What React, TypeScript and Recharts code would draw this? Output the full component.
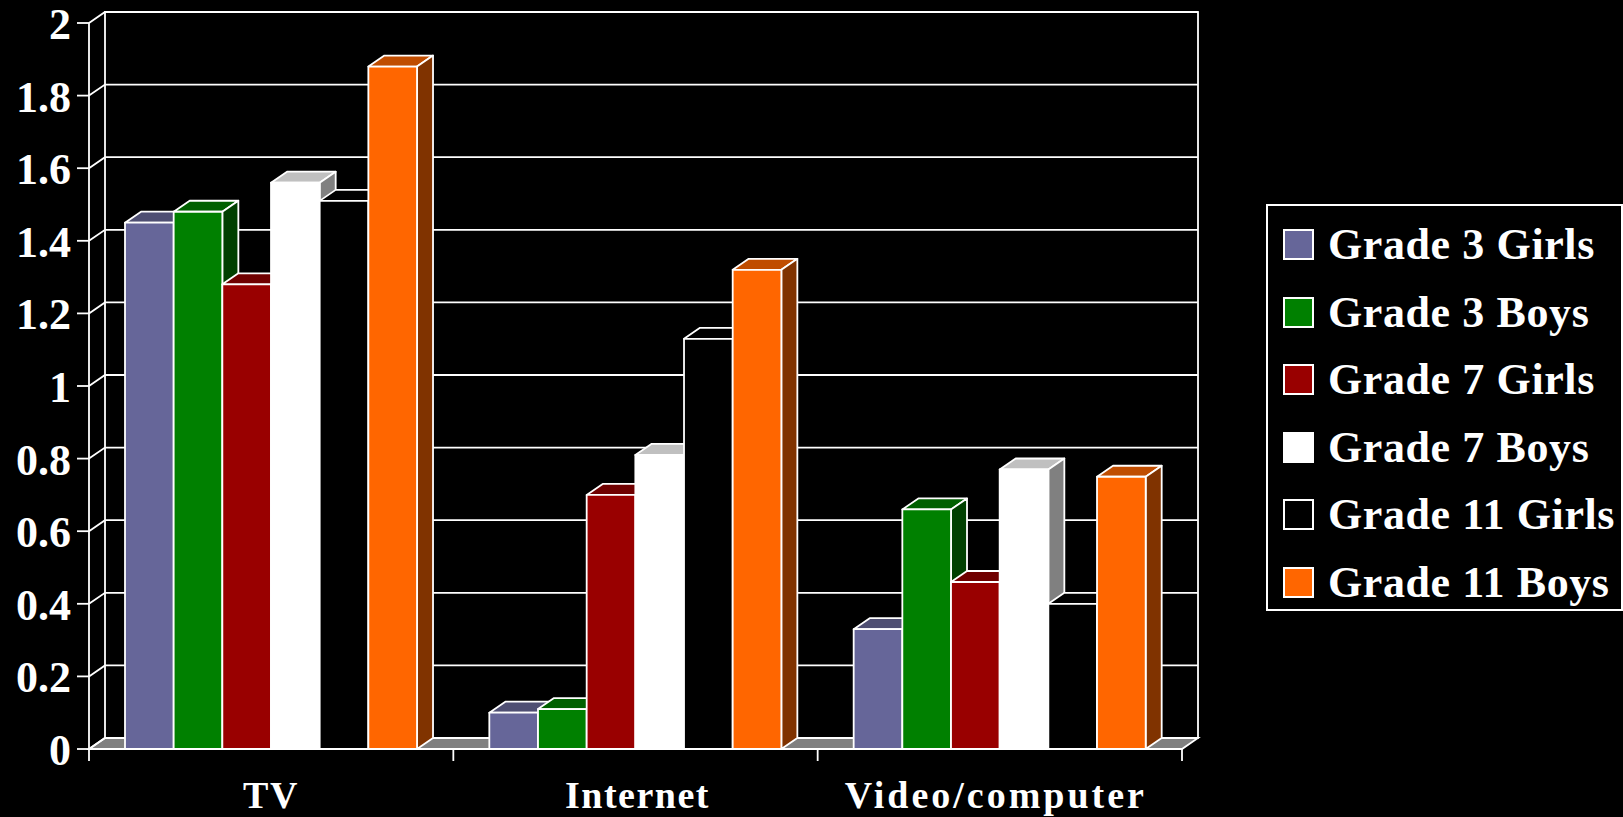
import { BarChart, Bar, XAxis, YAxis, CartesianGrid, Legend } from "recharts";

const categories = ["TV", "Internet", "Video/computer"];
const grade3Girls = [1.45, 0.1, 0.33];
const grade3Boys = [1.48, 0.11, 0.66];
const grade7Girls = [1.28, 0.7, 0.46];
const grade7Boys = [1.56, 0.81, 0.77];
const grade11Girls = [1.51, 1.13, 0.4];
const grade11Boys = [1.88, 1.32, 0.75];
const yTicks = [0, 0.2, 0.4, 0.6, 0.8, 1, 1.2, 1.4, 1.6, 1.8, 2];

const series = [
  { key: "Grade 3 Girls", values: grade3Girls, fill: "#666699", top: "#4f4f73", side: "#3d3d5c" },
  { key: "Grade 3 Boys", values: grade3Boys, fill: "#008000", top: "#006000", side: "#004000" },
  { key: "Grade 7 Girls", values: grade7Girls, fill: "#990000", top: "#700000", side: "#4d0000" },
  { key: "Grade 7 Boys", values: grade7Boys, fill: "#ffffff", top: "#c0c0c0", side: "#808080" },
  { key: "Grade 11 Girls", values: grade11Girls, fill: "#000000", top: "#000000", side: "#000000" },
  { key: "Grade 11 Boys", values: grade11Boys, fill: "#ff6600", top: "#c04d00", side: "#803300" },
];

const data = categories.map((name, i) => {
  const row: Record<string, string | number> = { name };
  series.forEach((s) => {
    row[s.key] = s.values[i];
  });
  return row;
});

const WIDTH = 1623;
const HEIGHT = 817;
const DX = 16;
const DY = 11;
const TOP = 23;
const BOTTOM = 749;
const FONT = "'Liberation Serif', serif";
// the original font sets the labels wider than Liberation does
const labelSpacing = [1.8, 1.5, 3];
const labelNudge = [0, 2, -4];

// 3D box: front face plus the top and right faces
const box = (top: string, side: string) => (props: any) => {
  const { x, y, width, height, fill } = props;
  const r = x + width;
  const b = y + height;
  return (
    <g stroke="#fff" strokeWidth={1.8} strokeLinejoin="round">
      <polygon points={`${x},${y} ${x + DX},${y - DY} ${r + DX},${y - DY} ${r},${y}`} fill={top} />
      <polygon points={`${r},${y} ${r + DX},${y - DY} ${r + DX},${b - DY} ${r},${b}`} fill={side} />
      <rect x={x} y={y} width={width} height={height} fill={fill} />
    </g>
  );
};

// grid lines on the back wall, joined to the axis by a diagonal
const wallLine = (props: any) => {
  const { x1, x2, y1 } = props;
  const isTop = Math.abs(y1 - TOP) < 1;
  const isFloor = Math.abs(y1 - BOTTOM) < 1;
  return (
    <g key={`wall-${y1}`} fill="none" stroke="#fff" strokeWidth={1.8}>
      {isFloor && (
        <polygon
          points={`${x1},${y1} ${x1 + DX},${y1 - DY} ${x2 + DX},${y1 - DY} ${x2},${y1}`}
          fill="#808080"
        />
      )}
      {isTop && (
        <rect x={x1 + DX} y={TOP - DY} width={x2 - x1} height={BOTTOM - TOP} />
      )}
      <polyline points={`${x1},${y1} ${x1 + DX},${y1 - DY} ${x2 + DX},${y1 - DY}`} />
    </g>
  );
};

const YTick = (props: any) => {
  const { y, payload } = props;
  return (
    <g>
      <line x1={77} x2={89} y1={y} y2={y} stroke="#fff" strokeWidth={1.8} />
      <text x={71} y={y + 16} textAnchor="end" fill="#fff" fontFamily={FONT} fontWeight={700} fontSize={44}>
        {payload.value}
      </text>
    </g>
  );
};

const XTick = (props: any) => {
  const { x, y, payload, index } = props;
  const half = (WIDTH - 441 - 89) / 6;
  return (
    <g>
      <line x1={x - half} x2={x - half} y1={BOTTOM} y2={BOTTOM + 12} stroke="#fff" strokeWidth={1.8} />
      {index === categories.length - 1 && (
        <line x1={x + half} x2={x + half} y1={BOTTOM} y2={BOTTOM + 12} stroke="#fff" strokeWidth={1.8} />
      )}
      <text
        x={x + labelNudge[index]}
        y={y + 51}
        textAnchor="middle"
        fill="#fff"
        fontFamily={FONT}
        fontWeight={700}
        fontSize={38}
        letterSpacing={labelSpacing[index]}
      >
        {payload.value}
      </text>
    </g>
  );
};

const LegendBox = () => (
  <div
    style={{
      boxSizing: "border-box",
      width: 357,
      height: 407,
      border: "2px solid #fff",
      background: "#000",
      paddingTop: 5,
      fontFamily: FONT,
      fontWeight: 700,
      fontSize: 44,
      letterSpacing: 0.6,
      color: "#fff",
    }}
  >
    {series.map((s) => (
      <div key={s.key} style={{ display: "flex", alignItems: "center", height: 67.5 }}>
        <span
          style={{
            boxSizing: "border-box",
            width: 31,
            height: 31,
            marginLeft: 15,
            marginRight: 14,
            background: s.fill,
            border: "2px solid #fff",
          }}
        />
        <span style={{ whiteSpace: "nowrap" }}>{s.key}</span>
      </div>
    ))}
  </div>
);

export default function App() {
  return (
    <div style={{ position: "absolute", left: 0, top: 0, width: WIDTH, height: HEIGHT, background: "#000" }}>
      <BarChart
        width={WIDTH}
        height={HEIGHT}
        data={data}
        margin={{ top: TOP, right: 84, bottom: 0, left: 0 }}
        barSize={48.67}
        barGap={0}
      >
        <CartesianGrid vertical={false} horizontal={wallLine} syncWithTicks />
        <XAxis
          dataKey="name"
          height={HEIGHT - BOTTOM}
          axisLine={{ stroke: "#fff", strokeWidth: 1.8 }}
          tickLine={false}
          interval={0}
          tick={XTick}
        />
        <YAxis
          width={89}
          domain={[0, 2]}
          ticks={yTicks}
          interval={0}
          axisLine={{ stroke: "#fff", strokeWidth: 1.8 }}
          tickLine={false}
          tick={YTick}
        />
        <Legend
          layout="vertical"
          align="right"
          verticalAlign="top"
          wrapperStyle={{ left: 1266, top: 204, width: 357 }}
          content={LegendBox}
        />
        {series.map((s) => (
          <Bar
            key={s.key}
            dataKey={s.key}
            fill={s.fill}
            isAnimationActive={false}
            shape={box(s.top, s.side)}
          />
        ))}
      </BarChart>
    </div>
  );
}
